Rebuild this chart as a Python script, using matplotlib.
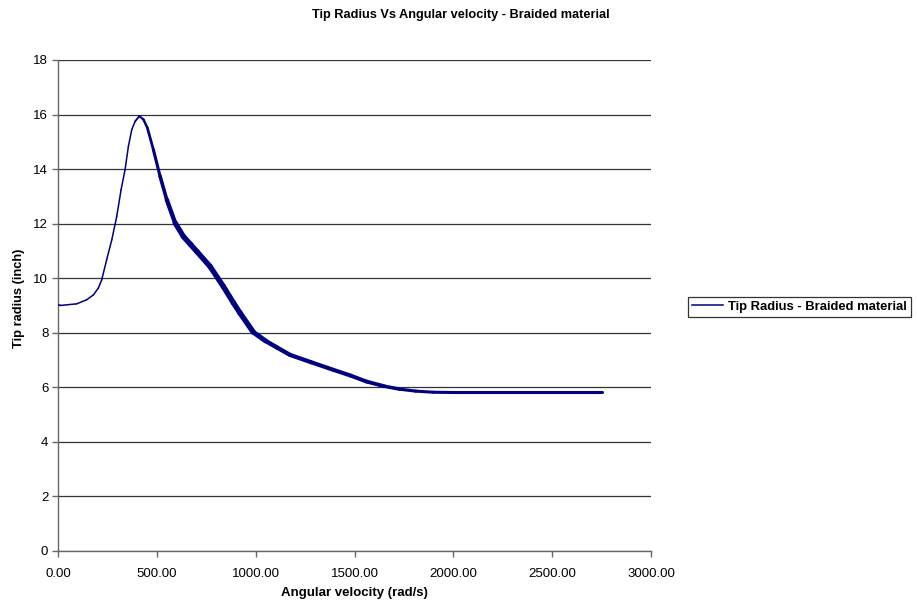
import matplotlib
matplotlib.use("Agg")
import matplotlib.pyplot as plt
import numpy as np
from matplotlib.collections import LineCollection
from matplotlib.ticker import FuncFormatter

plt.rcParams['font.family'] = ['Liberation Sans', 'DejaVu Sans']

# Angular velocity (rad/s) and tip radius (inch)
omega = [0, 10, 94, 145, 179, 204, 221, 246, 272, 297, 319, 339, 356, 373, 390, 411,
         432, 452, 482, 516, 550, 592, 634, 670, 702, 769, 836, 887, 921, 988, 1050,
         1110, 1173, 1280, 1393, 1480, 1561, 1650, 1730, 1810, 1898, 2000, 2200, 2400,
         2600, 2750]
radius = [9.0, 9.0, 9.06, 9.21, 9.39, 9.64, 9.94, 10.68, 11.41, 12.27, 13.25, 13.98,
          14.84, 15.45, 15.75, 15.94, 15.82, 15.51, 14.72, 13.74, 12.88, 12.03, 11.53,
          11.24, 10.98, 10.43, 9.70, 9.10, 8.72, 8.02, 7.70, 7.45, 7.19, 6.92, 6.64,
          6.43, 6.21, 6.04, 5.93, 5.86, 5.82, 5.81, 5.81, 5.81, 5.81, 5.81]

series_label = "Tip Radius - Braided material"
line_color = "#000080"

# drawn trace width (pt) along the curve: the oscillating part after the peak renders heavier
width_knots_omega = [0, 380, 420, 520, 620, 950, 1100, 1600, 1800, 2800]
width_knots_pt = [1.1, 1.1, 1.6, 2.4, 3.9, 3.9, 3.1, 2.8, 2.2, 2.2]

omega = np.array(omega, dtype=float)
radius = np.array(radius, dtype=float)

fig = plt.figure(figsize=(9.17, 6.06), dpi=100)
ax = fig.add_axes([0.0633, 0.0908, 0.6467, 0.8102])

pts = np.column_stack([omega, radius]).reshape(-1, 1, 2)
segs = np.concatenate([pts[:-1], pts[1:]], axis=1)
mid = 0.5 * (omega[:-1] + omega[1:])
lws = np.interp(mid, width_knots_omega, width_knots_pt)
lc = LineCollection(segs, colors=line_color, linewidths=lws, capstyle='round',
                    joinstyle='round', zorder=3)
ax.add_collection(lc)
ax.plot([], [], color=line_color, lw=1.1, label=series_label)

ax.set_xlim(0, 3000)
ax.set_ylim(0, 18)
ax.set_xticks(np.arange(0, 3001, 500))
ax.set_yticks(np.arange(0, 19, 2))
ax.xaxis.set_major_formatter(FuncFormatter(lambda v, p: f"{v:.2f}"))
ax.yaxis.set_major_formatter(FuncFormatter(lambda v, p: f"{v:.0f}"))

ax.grid(axis='y', color='#333333', lw=0.9, zorder=1)
ax.set_axisbelow(True)
for s in ['top', 'right']:
    ax.spines[s].set_visible(False)
for s in ['left', 'bottom']:
    ax.spines[s].set_color('#666666')
    ax.spines[s].set_linewidth(1.0)
ax.tick_params(axis='both', direction='out', length=4, width=1, color='#666666',
               labelsize=9.5, pad=3)
ax.tick_params(axis='x', pad=8)

ax.set_xlabel("Angular velocity (rad/s)", fontsize=9.5, fontweight='bold', labelpad=5)
ax.set_ylabel("Tip radius (inch)", fontsize=9.3, fontweight='bold')
ax.yaxis.set_label_coords(-0.056, 0.515)
fig.text(0.502, 0.975, "Tip Radius Vs Angular velocity - Braided material",
         ha='center', va='center', fontsize=9.2, fontweight='bold')

leg = fig.legend(loc='center left', bbox_to_anchor=(0.750, 0.4935), frameon=True,
                 fancybox=False, edgecolor='black', fontsize=9.4, handlelength=2.4,
                 borderpad=0.3, handletextpad=0.4, borderaxespad=0)
for t in leg.get_texts():
    t.set_fontweight('bold')
leg.get_frame().set_linewidth(0.9)

fig.savefig("out.png", dpi=100)
